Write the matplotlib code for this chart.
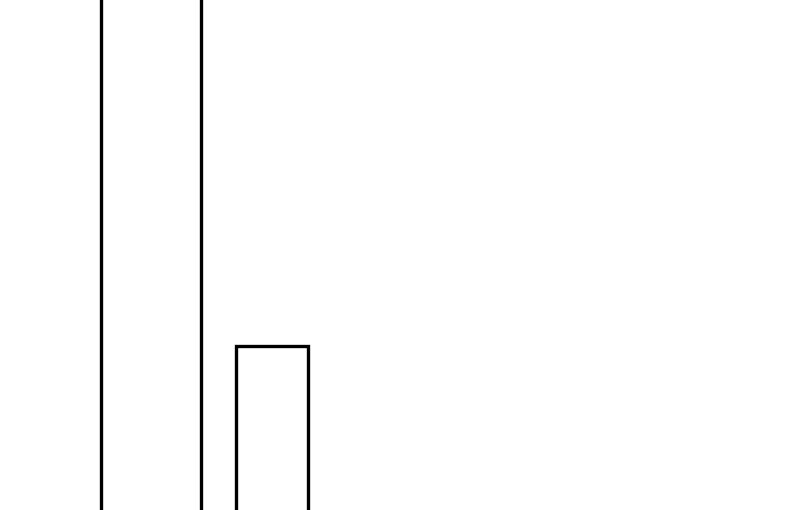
import matplotlib.pyplot as plt

# bar data (pixel-like units, the chart has no visible axes)
centers = [151, 272]
widths = [100, 72]
heights = [620, 174]

fig = plt.figure(figsize=(8, 5.1001), dpi=100)
ax = fig.add_axes([0, 0, 1, 1])
bars = ax.bar(centers, heights, width=widths, bottom=-10, facecolor='none',
              edgecolor='black', linewidth=2.4)
for b in bars:
    b.set_clip_on(False)
ax.set_xlim(0, 800)
ax.set_ylim(0, 510)
ax.axis('off')
fig.savefig('out.png', dpi=100, facecolor='white')
